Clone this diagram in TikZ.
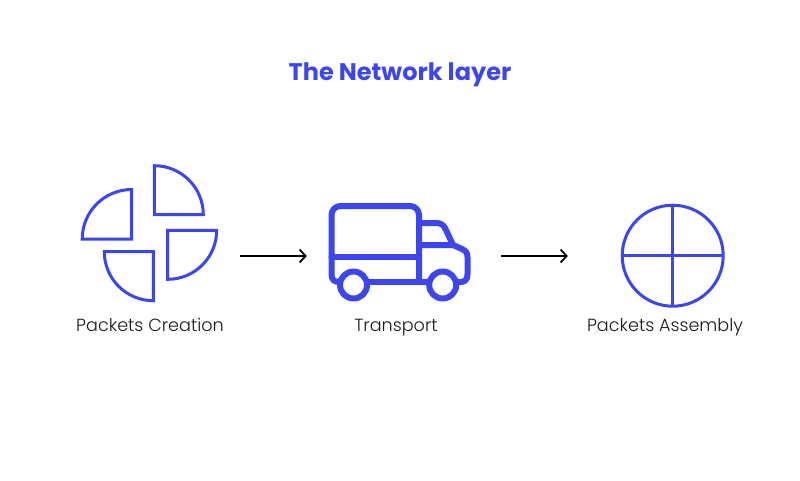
\documentclass[tikz,border=0pt]{standalone}
\usepackage{fontspec}
\setmainfont{Poppins}
\newfontfamily\lightface{Poppins Light}
\usetikzlibrary{arrows.meta}
\definecolor{netblue}{HTML}{3C46EE}
\definecolor{labelink}{HTML}{1C1C1C}
\tikzset{
  thinicon/.style={draw=netblue,line width=3pt,line join=miter},
  truckline/.style={draw=netblue,line width=6pt,line join=round,line cap=round},
  flow/.style={draw=black,line width=1.8pt,-{Straight Barb[length=6pt,width=13pt,line width=1.8pt]}},
  iconbox/.style={inner sep=0pt,minimum height=100pt},
  caption/.style={text=labelink,font=\lightface\fontsize{17.6}{20}\selectfont,anchor=base},
  headline/.style={text=netblue,font=\fontsize{24}{28}\selectfont\bfseries,anchor=base}
}
\begin{document}
\begin{tikzpicture}[x=1pt,y=-1pt]
\useasboundingbox[fill=white] (0,0) rectangle (800,480);
\node[headline] (title) at (400,80.5) {The Network layer};
% invisible boxes that carry the connector ends
\node[iconbox,minimum width=180pt] (creation) at (150,256) {};
\node[iconbox,minimum width=194pt] (transport) at (404,256) {};
\node[iconbox,minimum width=208pt] (assembly) at (672,256) {};
% packets
\draw[thinicon] (154.3,165.7) arc[start angle=-90,end angle=0,radius=49] -- (154.3,214.7) -- cycle;
\draw[thinicon] (131.7,189.5) arc[start angle=-90,end angle=-180,radius=49.5] -- (131.7,239) -- cycle;
\draw[thinicon] (216.7,230.3) arc[start angle=0,end angle=90,radius=49] -- (167.7,230.3) -- cycle;
\draw[thinicon] (153.3,300.7) arc[start angle=90,end angle=180,radius=49] -- (153.3,251.7) -- cycle;
% truck
\draw[truckline] (419,282) -- (419,215) arc[start angle=0,end angle=-90,radius=9] -- (340.5,206) arc[start angle=-90,end angle=-180,radius=9] -- (331.5,274) .. controls (331.5,280) and (334,282) .. (340,282);
\draw[truckline] (331.5,257.3) -- (419,257.3);
\draw[truckline] (419,223) -- (436,223) .. controls (441,223) and (444,225) .. (446,230) -- (453,245) -- (419,245);
\draw[truckline] (453,245) -- (462,249) .. controls (466,251) and (467.5,253) .. (467.5,257) -- (467.5,274) .. controls (467.5,280) and (465,282) .. (460,282) -- (450,282);
\draw[truckline] (340,282) -- (430,282);
\draw[truckline,fill=white] (353.5,285) circle[radius=13.5];
\draw[truckline,fill=white] (442.7,285) circle[radius=13.5];
% assembled packet
\draw[thinicon] (672.7,255.7) circle[radius=50.5];
\draw[thinicon] (622.2,255.7) -- (723.2,255.7);
\draw[thinicon] (672.7,205.2) -- (672.7,306.2);
% connectors
\draw[flow] (creation) -- (transport);
\draw[flow] (transport) -- (assembly);
% captions
\node[caption] (c1) at (150,331) {Packets Creation};
\node[caption] (c2) at (396,331) {Transport};
\node[caption] (c3) at (665,331) {Packets Assembly};
\end{tikzpicture}
\end{document}
